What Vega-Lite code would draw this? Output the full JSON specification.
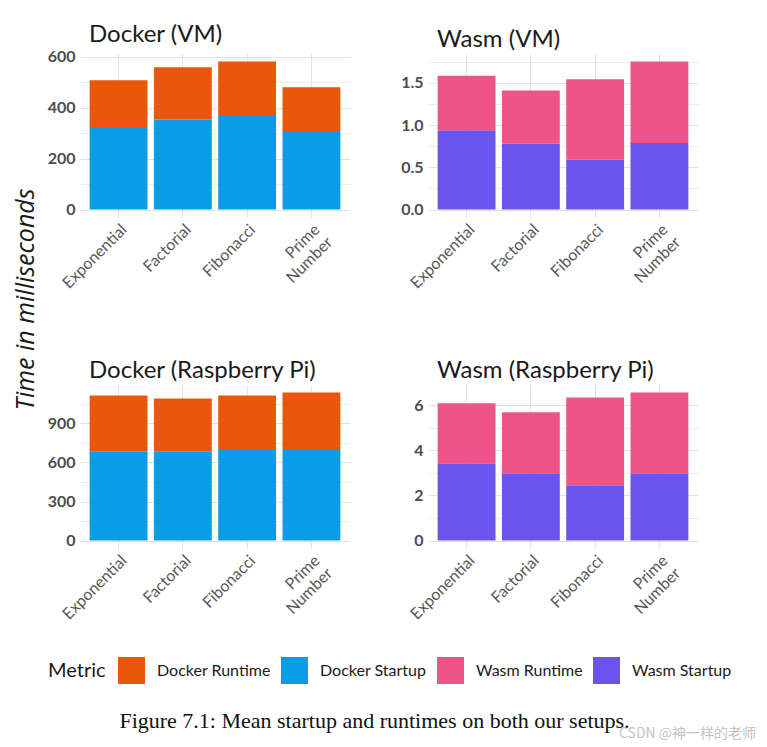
{
  "$schema": "https://vega.github.io/schema/vega-lite/v6.json",
  "background": "white",
  "padding": {"left": 13, "top": 22, "right": 5, "bottom": 5},
  "bounds": "flush",
  "config": {
    "view": {"stroke": null},
    "font": "Lato",
    "axis": {"domain": false, "ticks": false, "gridColor": "#E3E3E3", "labelFont": "Lato"},
    "axisY": {"labelFontWeight": "bold", "labelFontSize": 16, "labelColor": "#4D4D4D", "labelPadding": 5},
    "axisX": {"labelAngle": -45, "labelAlign": "right", "labelBaseline": "top", "labelFontSize": 16, "labelColor": "#585858", "labelPadding": 4, "bandPosition": 0.5, "grid": true, "gridWidth": 1, "title": null},
    "title": {"font": "Lato", "fontSize": 24, "fontWeight": "normal", "color": "#1A1A1A", "anchor": "start", "frame": "group", "offset": 2, "dx": 9}
  },
  "data": {"values": [
    {"panel": "Docker (VM)", "task": "Exponential", "metric": "Docker Startup", "value": 324},
    {"panel": "Docker (VM)", "task": "Exponential", "metric": "Docker Runtime", "value": 183},
    {"panel": "Docker (VM)", "task": "Factorial", "metric": "Docker Startup", "value": 353},
    {"panel": "Docker (VM)", "task": "Factorial", "metric": "Docker Runtime", "value": 205},
    {"panel": "Docker (VM)", "task": "Fibonacci", "metric": "Docker Startup", "value": 367},
    {"panel": "Docker (VM)", "task": "Fibonacci", "metric": "Docker Runtime", "value": 214},
    {"panel": "Docker (VM)", "task": "Prime Number", "metric": "Docker Startup", "value": 304},
    {"panel": "Docker (VM)", "task": "Prime Number", "metric": "Docker Runtime", "value": 176},
    {"panel": "Wasm (VM)", "task": "Exponential", "metric": "Wasm Startup", "value": 0.94},
    {"panel": "Wasm (VM)", "task": "Exponential", "metric": "Wasm Runtime", "value": 0.645},
    {"panel": "Wasm (VM)", "task": "Factorial", "metric": "Wasm Startup", "value": 0.78},
    {"panel": "Wasm (VM)", "task": "Factorial", "metric": "Wasm Runtime", "value": 0.63},
    {"panel": "Wasm (VM)", "task": "Fibonacci", "metric": "Wasm Startup", "value": 0.59},
    {"panel": "Wasm (VM)", "task": "Fibonacci", "metric": "Wasm Runtime", "value": 0.955},
    {"panel": "Wasm (VM)", "task": "Prime Number", "metric": "Wasm Startup", "value": 0.79},
    {"panel": "Wasm (VM)", "task": "Prime Number", "metric": "Wasm Runtime", "value": 0.965},
    {"panel": "Docker (Raspberry Pi)", "task": "Exponential", "metric": "Docker Startup", "value": 686},
    {"panel": "Docker (Raspberry Pi)", "task": "Exponential", "metric": "Docker Runtime", "value": 428},
    {"panel": "Docker (Raspberry Pi)", "task": "Factorial", "metric": "Docker Startup", "value": 686},
    {"panel": "Docker (Raspberry Pi)", "task": "Factorial", "metric": "Docker Runtime", "value": 405},
    {"panel": "Docker (Raspberry Pi)", "task": "Fibonacci", "metric": "Docker Startup", "value": 703},
    {"panel": "Docker (Raspberry Pi)", "task": "Fibonacci", "metric": "Docker Runtime", "value": 411},
    {"panel": "Docker (Raspberry Pi)", "task": "Prime Number", "metric": "Docker Startup", "value": 695},
    {"panel": "Docker (Raspberry Pi)", "task": "Prime Number", "metric": "Docker Runtime", "value": 443},
    {"panel": "Wasm (Raspberry Pi)", "task": "Exponential", "metric": "Wasm Startup", "value": 3.42},
    {"panel": "Wasm (Raspberry Pi)", "task": "Exponential", "metric": "Wasm Runtime", "value": 2.66},
    {"panel": "Wasm (Raspberry Pi)", "task": "Factorial", "metric": "Wasm Startup", "value": 2.98},
    {"panel": "Wasm (Raspberry Pi)", "task": "Factorial", "metric": "Wasm Runtime", "value": 2.70},
    {"panel": "Wasm (Raspberry Pi)", "task": "Fibonacci", "metric": "Wasm Startup", "value": 2.45},
    {"panel": "Wasm (Raspberry Pi)", "task": "Fibonacci", "metric": "Wasm Runtime", "value": 3.89},
    {"panel": "Wasm (Raspberry Pi)", "task": "Prime Number", "metric": "Wasm Startup", "value": 2.98},
    {"panel": "Wasm (Raspberry Pi)", "task": "Prime Number", "metric": "Wasm Runtime", "value": 3.58}
  ]},
  "spacing": 331,
  "vconcat": [
    {"hconcat": [
      {
        "width": 270, "height": 163,
        "title": {"text": "Docker (VM)"},
        "transform": [{"filter": "datum.panel == 'Docker (VM)'"}],
        "mark": {"type": "bar"},
        "encoding": {
          "x": {"field": "task", "type": "nominal", "sort": ["Exponential", "Factorial", "Fibonacci", "Prime Number"], "scale": {"paddingInner": 0.1, "paddingOuter": 0.15},
                "axis": {"labelExpr": "datum.label == 'Prime Number' ? ['Prime', 'Number'] : datum.label"}},
          "y": {"field": "value", "type": "quantitative", "stack": "zero", "scale": {"domain": [-29, 610], "nice": false, "zero": false},
                "axis": {"values": [0, 100, 200, 300, 400, 500, 600], "labelExpr": "datum.value % 200 == 0 ? datum.label : ''",
                         "gridWidth": {"condition": {"test": "datum.value % 200 == 0", "value": 1}, "value": 0.6},
                         "title": "Time in milliseconds", "titleFont": "Open Sans", "titleFontStyle": "italic", "titleFontWeight": "normal", "titleFontSize": 25, "titleColor": "#1A1A1A", "titleX": -42, "titleY": 245, "titleAngle": -90, "titleBaseline": "bottom"}},
          "color": {"field": "metric", "type": "nominal",
                    "scale": {"domain": ["Docker Runtime", "Docker Startup", "Wasm Runtime", "Wasm Startup"], "range": ["#E8570A", "#0B9CE8", "#EF5489", "#6B54EE"]},
                    "legend": {"orient": "none", "legendX": -32, "legendY": 603, "direction": "horizontal", "titleOrient": "left", "title": "Metric", "titleFont": "Lato", "titleFontSize": 20, "titleFontWeight": "normal", "titleColor": "#1A1A1A", "titlePadding": 12,
                               "labelFont": "Lato", "labelFontSize": 16, "labelColor": "#1A1A1A", "labelOffset": 12, "columnPadding": 10,
                               "symbolType": "square", "symbolSize": 729, "symbolStrokeWidth": 0, "symbolOpacity": 1}},
          "order": {"field": "metric", "sort": "descending"}
        }
      },
      {
        "width": 270, "height": 163,
        "title": {"text": "Wasm (VM)"},
        "transform": [{"filter": "datum.panel == 'Wasm (VM)'"}],
        "mark": {"type": "bar"},
        "encoding": {
          "x": {"field": "task", "type": "nominal", "sort": ["Exponential", "Factorial", "Fibonacci", "Prime Number"], "scale": {"paddingInner": 0.1, "paddingOuter": 0.15},
                "axis": {"labelExpr": "datum.label == 'Prime Number' ? ['Prime', 'Number'] : datum.label"}},
          "y": {"field": "value", "type": "quantitative", "stack": "zero", "scale": {"domain": [-0.0878, 1.8428], "nice": false, "zero": false},
                "axis": {"values": [0, 0.25, 0.5, 0.75, 1, 1.25, 1.5, 1.75], "format": ".1f", "labelExpr": "abs(datum.value * 2 - round(datum.value * 2)) < 0.001 ? datum.label : ''",
                         "gridWidth": {"condition": {"test": "abs(datum.value * 2 - round(datum.value * 2)) < 0.001", "value": 1}, "value": 0.6},
                         "title": null}},
          "color": {"field": "metric", "type": "nominal"},
          "order": {"field": "metric", "sort": "descending"}
        }
      }
    ], "spacing": 78, "bounds": "flush"},
    {"hconcat": [
      {
        "width": 270, "height": 163,
        "title": {"text": "Docker (Raspberry Pi)"},
        "transform": [{"filter": "datum.panel == 'Docker (Raspberry Pi)'"}],
        "mark": {"type": "bar"},
        "encoding": {
          "x": {"field": "task", "type": "nominal", "sort": ["Exponential", "Factorial", "Fibonacci", "Prime Number"], "scale": {"paddingInner": 0.1, "paddingOuter": 0.15},
                "axis": {"labelExpr": "datum.label == 'Prime Number' ? ['Prime', 'Number'] : datum.label",
                         "title": "Figure 7.1: Mean startup and runtimes on both our setups.", "titleFont": "Liberation Serif", "titleFontSize": 22, "titleFontWeight": "normal", "titleColor": "#111111", "titleX": 294, "titleY": 179, "titleAlign": "center", "titleBaseline": "alphabetic", "titleAngle": 0}},
          "y": {"field": "value", "type": "quantitative", "stack": "zero", "scale": {"domain": [-56.9, 1194.9], "nice": false, "zero": false},
                "axis": {"values": [0, 150, 300, 450, 600, 750, 900, 1050], "labelExpr": "datum.value % 300 == 0 ? datum.label : ''",
                         "gridWidth": {"condition": {"test": "datum.value % 300 == 0", "value": 1}, "value": 0.6},
                         "title": null}},
          "color": {"field": "metric", "type": "nominal"},
          "order": {"field": "metric", "sort": "descending"}
        }
      },
      {
        "width": 270, "height": 163,
        "title": {"text": "Wasm (Raspberry Pi)"},
        "transform": [{"filter": "datum.panel == 'Wasm (Raspberry Pi)'"}],
        "mark": {"type": "bar"},
        "encoding": {
          "x": {"field": "task", "type": "nominal", "sort": ["Exponential", "Factorial", "Fibonacci", "Prime Number"], "scale": {"paddingInner": 0.1, "paddingOuter": 0.15},
                "axis": {"labelExpr": "datum.label == 'Prime Number' ? ['Prime', 'Number'] : datum.label",
                         "title": "CSDN @神一样的老师", "titleFont": "Noto Sans CJK SC", "titleFontSize": 14, "titleFontWeight": "normal", "titleColor": "#C4C4C4", "titleX": 259, "titleY": 189, "titleAlign": "center", "titleBaseline": "alphabetic", "titleAngle": 0}},
          "y": {"field": "value", "type": "quantitative", "stack": "zero", "scale": {"domain": [-0.328, 6.888], "nice": false, "zero": false},
                "axis": {"values": [0, 1, 2, 3, 4, 5, 6], "labelExpr": "datum.value % 2 == 0 ? datum.label : ''",
                         "gridWidth": {"condition": {"test": "datum.value % 2 == 0", "value": 1}, "value": 0.6},
                         "title": null}},
          "color": {"field": "metric", "type": "nominal"},
          "order": {"field": "metric", "sort": "descending"}
        }
      }
    ], "spacing": 78, "bounds": "flush"}
  ]
}
